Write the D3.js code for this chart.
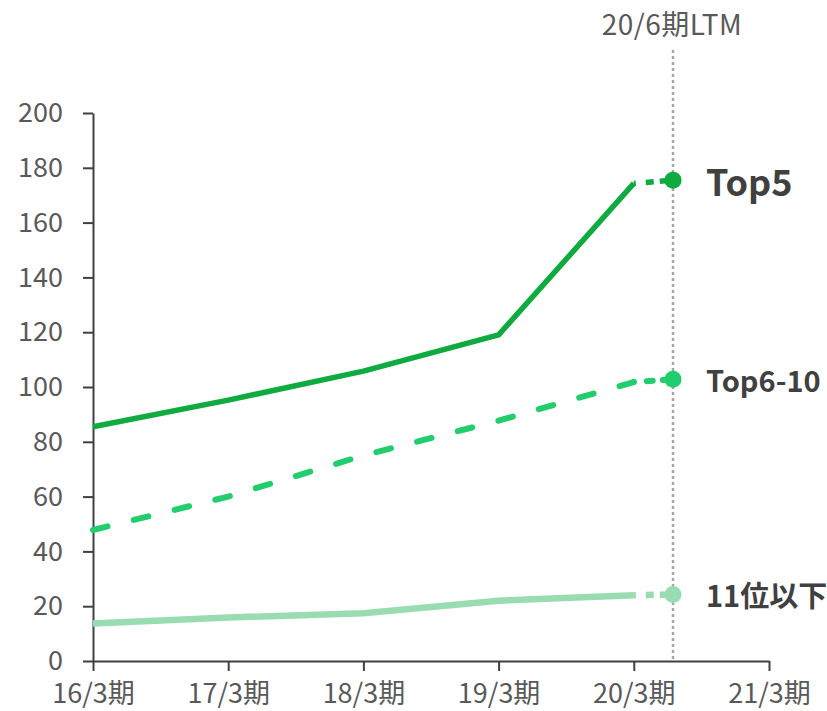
<!DOCTYPE html>
<html>
<head>
<meta charset="utf-8">
<script src="https://cdn.jsdelivr.net/npm/d3@7"></script>
<style>
  body { margin: 0; background: #fff; }
  text { font-family: "Noto Sans CJK JP", "Noto Sans", sans-serif; }
</style>
</head>
<body>
<div id="chart"></div>
<script>
const categories = ["16/3期", "17/3期", "18/3期", "19/3期", "20/3期", "21/3期"];
const ltmLabel = "20/6期LTM";
const ltmPos = 4.29; // position of 20/6 LTM between 20/3 and 21/3
const yTicks = [0, 20, 40, 60, 80, 100, 120, 140, 160, 180, 200];

const seriesNames = ["Top5", "Top6-10", "11位以下"];
const top5 = [85.5, 95.2, 105.8, 119, 174.3];
const top6_10 = [47.8, 60, 75, 87.7, 101.8];
const rest = [13.7, 15.9, 17.4, 22, 24];
const ltmValues = [175.5, 102.8, 24.3];

const width = 827, height = 711;

const svg = d3.select("#chart").append("svg")
  .attr("width", width).attr("height", height);

const x = d3.scaleLinear().domain([0, 5]).range([93, 769]);
const y = d3.scaleLinear().domain([0, 200]).range([661, 113]);

// LTM guide line
svg.append("line")
  .attr("x1", Math.round(x(ltmPos))).attr("x2", Math.round(x(ltmPos)))
  .attr("y1", 50).attr("y2", y(0))
  .attr("stroke", "#a6a6a6").attr("stroke-width", 2.5)
  .attr("stroke-dasharray", "3,3");

svg.append("text")
  .attr("x", x(ltmPos) - 1).attr("y", 35)
  .attr("text-anchor", "middle")
  .attr("fill", "#595959")
  .style("font-size", "28px")
  .style("letter-spacing", "0.5px")
  .text(ltmLabel);

// axes
const yAxis = svg.append("g")
  .attr("transform", `translate(${x(0)},0)`)
  .call(d3.axisLeft(y).tickValues(yTicks).tickSize(10).tickPadding(20).tickSizeOuter(0));
const xAxis = svg.append("g")
  .attr("transform", `translate(0,${y(0)})`)
  .call(d3.axisBottom(x).tickValues(d3.range(categories.length))
    .tickFormat(i => categories[i]).tickSize(10).tickSizeOuter(0));

[yAxis, xAxis].forEach(g => {
  g.select(".domain").attr("stroke", "#404040").attr("stroke-width", 2);
  g.selectAll(".tick line").attr("stroke", "#404040").attr("stroke-width", 2);
  g.selectAll(".tick text").attr("fill", "#595959").style("font-size", "27px")
    .style("font-family", '"Noto Sans CJK JP", sans-serif');
});
xAxis.selectAll(".tick text").attr("y", 42).attr("dy", 0);

const series = [
  { name: seriesNames[0], values: top5, ltm: ltmValues[0], color: "#0fab40", w: 5.5, dash: null, size: 36 },
  { name: seriesNames[1], values: top6_10, ltm: ltmValues[1], color: "#22cd6e", w: 6, dash: "15,27", size: 29 },
  { name: seriesNames[2], values: rest, ltm: ltmValues[2], color: "#9adcb2", w: 6.5, dash: null, size: 29 }
];

const line = d3.line().x(d => x(d[0])).y(d => y(d[1]));

series.forEach(s => {
  const pts = s.values.map((v, i) => [i, v]);
  svg.append("path")
    .attr("d", line(pts))
    .attr("fill", "none")
    .attr("stroke", s.color)
    .attr("stroke-width", s.w)
    .attr("stroke-linecap", s.dash ? "round" : "butt")
    .attr("stroke-linejoin", "round")
    .attr("stroke-dasharray", s.dash);

  // last stub to LTM
  const last = pts[pts.length - 1];
  svg.append("path")
    .attr("d", line([last, [ltmPos, s.ltm]]))
    .attr("fill", "none")
    .attr("stroke", s.color)
    .attr("stroke-width", s.w)
    .attr("stroke-linecap", s.dash ? "round" : "butt")
    .attr("stroke-dasharray", s.dash ? "0,13,6,10,20" : "2,10,8,6,20");

  svg.append("circle")
    .attr("cx", x(ltmPos)).attr("cy", y(s.ltm)).attr("r", 8.5)
    .attr("fill", s.color);

  svg.append("text")
    .attr("x", 706).attr("y", y(s.ltm))
    .attr("dominant-baseline", "central")
    .attr("fill", "#404040")
    .style("font-weight", "bold")
    .style("font-size", s.size + "px")
    .text(s.name);
});
</script>
</body>
</html>
